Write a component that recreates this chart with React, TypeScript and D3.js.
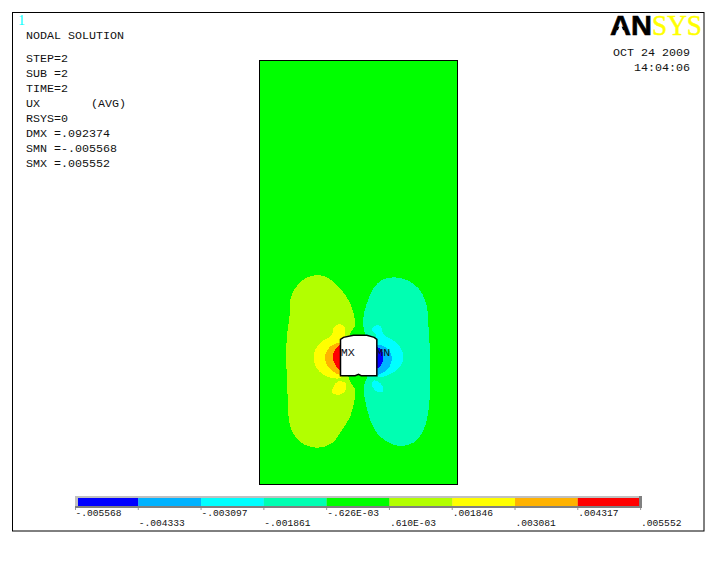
import React from "react";
import * as d3 from "d3";

type P = [number, number];

const infoLines = ["STEP=2", "SUB =2", "TIME=2", "UX", "RSYS=0", "DMX =.092374", "SMN =-.005568", "SMX =.005552"];
const legendValues = [-0.005568, -0.004333, -0.003097, -0.001861, -0.000626, 0.00061, 0.001846, 0.003081, 0.004317, 0.005552];
const legendLabels = ["-.005568", "-.004333", "-.003097", "-.001861", "-.626E-03", ".610E-03", ".001846", ".003081", ".004317", ".005552"];
const bandColors = ["#0000ff", "#00b2ff", "#00ffff", "#00ffb2", "#00ff00", "#b2ff00", "#ffff00", "#ffb200", "#ff0000"];

// Contour outlines, in model grid units
const lobeLeft: P[] = [[205,45],[165,55],[135,85],[120,120],[118,170],[110,230],[108,290],[110,350],[113,420],[118,490],[135,530],[165,555],[205,563],[245,550],[275,510],[300,470],[313,420],[315,390],[300,365],[285,300],[300,222],[315,195],[310,160],[295,120],[265,80],[235,55]];
const lobeRight: P[] = [[430,52],[395,60],[370,85],[350,130],[340,170],[340,200],[345,225],[365,300],[350,355],[340,380],[345,420],[360,480],[385,525],[420,550],[450,558],[490,548],[520,510],[535,450],[540,380],[540,300],[535,200],[528,130],[505,85],[470,60]];
const yellowMain: P[] = [[290,300],[285,225],[283,200],[268,192],[250,205],[245,225],[215,245],[195,270],[190,295],[200,325],[230,350],[275,352]];
const yellowBlob: P[] = [[262,365],[250,380],[247,400],[275,402],[288,385],[285,368]];
const orangeBand: P[] = [[290,300],[272,250],[240,260],[225,285],[230,315],[250,335],[272,344]];
const redBand: P[] = [[290,300],[272,255],[255,268],[248,290],[255,315],[272,330]];
const cyanMain: P[] = [[360,300],[378,225],[365,210],[375,197],[390,198],[402,225],[435,245],[455,270],[460,290],[450,320],[425,340],[385,350]];
const cyanBlob: P[] = [[370,362],[365,375],[380,395],[398,395],[398,380],[385,365]];
const skyBand: P[] = [[360,300],[380,255],[410,265],[425,290],[418,320],[395,340],[380,343]];
const blueBand: P[] = [[360,300],[380,262],[395,272],[400,290],[395,312],[380,325]];
const holeOutline: P[] = [[271,347],[271,238],[280,232],[310,226],[350,226],[372,232],[380,238],[380,347],[333,347],[325,343],[315,347]];

const contours: { pts: P[]; fill: string }[] = [
  { pts: lobeLeft, fill: bandColors[5] },
  { pts: lobeRight, fill: bandColors[3] },
  { pts: yellowMain, fill: bandColors[6] },
  { pts: yellowBlob, fill: bandColors[6] },
  { pts: orangeBand, fill: bandColors[7] },
  { pts: redBand, fill: bandColors[8] },
  { pts: cyanMain, fill: bandColors[2] },
  { pts: cyanBlob, fill: bandColors[2] },
  { pts: skyBand, fill: bandColors[1] },
  { pts: blueBand, fill: bandColors[0] },
];

const mono = "'Liberation Mono', monospace";

export default function App() {
  const x = d3.scaleLinear().domain([28, 622]).range([259.5, 457.5]);
  const y = d3.scaleLinear().domain([-600, 672]).range([60, 484]);
  const curve = d3.line<P>().x((d) => x(d[0])).y((d) => y(d[1])).curve(d3.curveCatmullRomClosed.alpha(0.5));
  const straight = d3.line<P>().x((d) => x(d[0])).y((d) => y(d[1]));
  const tick = d3.scalePoint<number>().domain(legendValues).range([75.5, 640.6]);
  const barL = 78;
  const barR = 639;

  return (
    <svg width={726} height={569} style={{ position: "absolute", left: 0, top: 0, background: "#fff" }}>
      <rect x={12.5} y={12.5} width={691.5} height={518.5} fill="#fff" stroke="#000" strokeWidth={1} />
      <text x={18} y={25} fontFamily="'Liberation Serif', serif" fontSize={14} fill="#00ffff">1</text>
      <g fontFamily={mono} fontSize={11.67} fill="#111">
        <text x={26} y={39}>NODAL SOLUTION</text>
        {infoLines.map((t, i) => (
          <text key={t} x={26} y={62 + i * 15}>{t}</text>
        ))}
        <text x={91} y={107}>(AVG)</text>
        <text x={690} y={56} textAnchor="end">OCT 24 2009</text>
        <text x={690} y={71} textAnchor="end">14:04:06</text>
      </g>
      <text x={610} y={35} fontFamily="'Liberation Sans', sans-serif" fontWeight={700} fontSize={28} textLength={42} lengthAdjust="spacingAndGlyphs" fill="#000" stroke="#000" strokeWidth={0.6}>AN</text>
      <polygon points="620.5,24 615.5,36 625.5,36" fill="#fff" />
      <text x={652} y={35} fontFamily="'Liberation Serif', serif" fontSize={29} textLength={50} lengthAdjust="spacingAndGlyphs" fill="#ffff00" stroke="#ffff00" strokeWidth={0.5}>SYS</text>

      <rect x={x(28)} y={y(-600)} width={x(622) - x(28)} height={y(672) - y(-600)} fill="#00ff00" stroke="#000" strokeWidth={1} shapeRendering="crispEdges" />
      <g shapeRendering="crispEdges">
        {contours.map((c, i) => (
          <path key={i} d={curve(c.pts) ?? ""} fill={c.fill} />
        ))}
      </g>
      <path d={(straight(holeOutline) ?? "") + "Z"} fill="#fff" stroke="#000" strokeWidth={1.5} />
      <g fontFamily={mono} fontSize={11.67} fill="#112">
        <text x={x(272)} y={356}>MX</text>
        <text x={x(378)} y={356}>MN</text>
      </g>

      <rect x={75} y={496} width={567} height={12} fill="#c0c0c0" />
      <rect x={75} y={506} width={567} height={2} fill="#808080" />
      <rect x={639} y={496} width={3} height={12} fill="#808080" />
      {bandColors.map((c, i) => {
        const a = Math.max(barL, tick(legendValues[i]) ?? 0);
        const b = Math.min(barR, tick(legendValues[i + 1]) ?? 0);
        return <rect key={c} x={a} y={498} width={b - a} height={8} fill={c} />;
      })}
      {legendValues.map((v, i) => (
        <g key={v}>
          <line x1={tick(v)} x2={tick(v)} y1={508} y2={510} stroke="#999" strokeWidth={1} />
          <text x={(tick(v) ?? 0) + (i === 0 ? 0 : 0.5)} y={i % 2 === 0 ? 516 : 526} fontFamily={mono} fontSize={9.6} fill="#111">{legendLabels[i]}</text>
        </g>
      ))}
    </svg>
  );
}
